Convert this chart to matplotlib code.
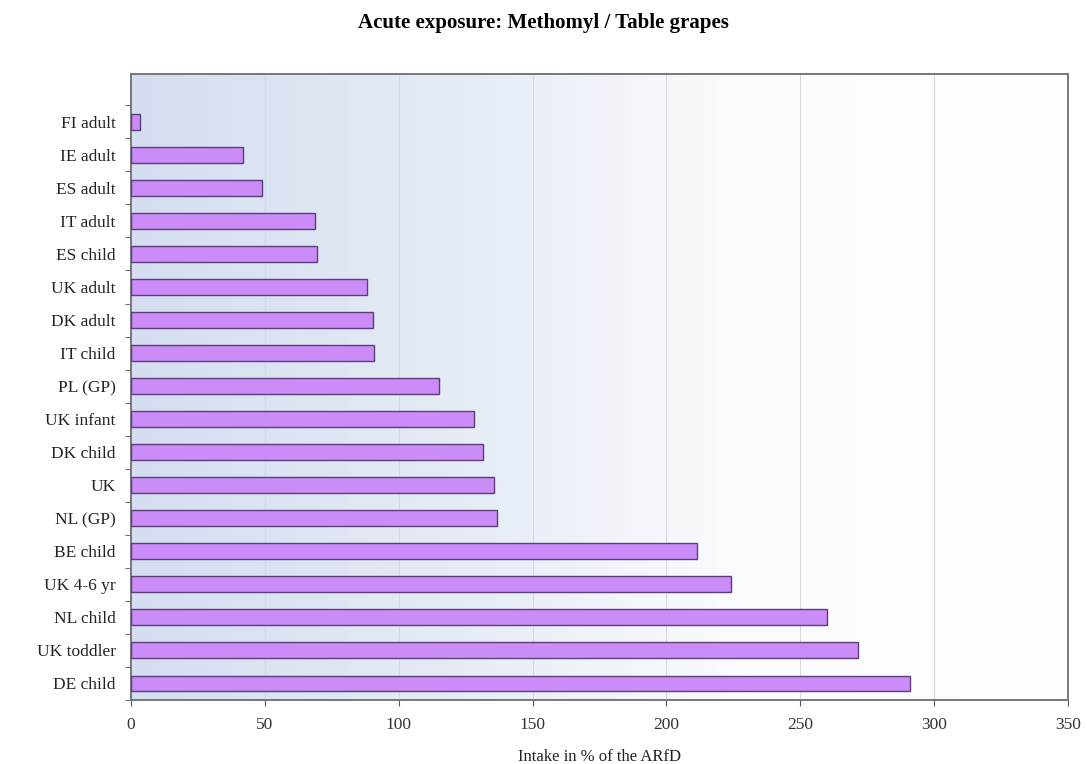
import numpy as np
import matplotlib
matplotlib.use('Agg')
import matplotlib.pyplot as plt
from matplotlib.colors import LinearSegmentedColormap

groups = ['DE child', 'UK toddler', 'NL child', 'UK 4-6 yr', 'BE child', 'NL (GP)',
          'UK', 'DK child', 'UK infant', 'PL (GP)', 'IT child', 'DK adult',
          'UK adult', 'ES child', 'IT adult', 'ES adult', 'IE adult', 'FI adult']
intake = [291, 271.5, 260, 224, 211.5, 136.8,
          135.6, 131.4, 128.3, 115.2, 90.8, 90.3,
          88, 69.4, 68.9, 48.8, 41.9, 3.4]
x_ticks = [0, 50, 100, 150, 200, 250, 300, 350]

plt.rcParams['font.family'] = ['Liberation Serif', 'DejaVu Serif']

fig = plt.figure(figsize=(10.87, 7.64), dpi=100)
ax = fig.add_axes([0.1205, 0.0838, 0.862, 0.8195])

# background gradient, light blue on the left fading to white
bg = LinearSegmentedColormap.from_list('bg', ['#d4def0', '#e4ebf5', '#fbfcfe', '#ffffff'])
grad = np.linspace(0, 1, 256).reshape(1, -1)
ax.imshow(grad, cmap=bg, aspect='auto', extent=[0, 350, -0.5, 18.45],
          zorder=0, interpolation='bicubic')

y = np.arange(len(groups))
ax.barh(y, intake, height=0.48, color='#cb8cf8', edgecolor='#5a3f7a',
        linewidth=1.0, zorder=3)

ax.set_xlim(0, 350)
ax.set_ylim(-0.5, 18.45)
ax.set_xticks(x_ticks)
ax.set_xticklabels([str(t) for t in x_ticks], fontsize=12.5, color='#333333')
ax.set_yticks(y)
ax.set_yticklabels(groups, fontsize=12.5, color='#222222')
ax.tick_params(axis='y', length=0, pad=11)
ax.tick_params(axis='x', length=4, color='#555555', pad=8)
ax.set_yticks(np.arange(-0.5, 18.5, 1), minor=True)
ax.tick_params(axis='y', which='minor', length=4, color='#555555')

ax.grid(axis='x', color='#d6d8e2', linewidth=0.8, zorder=1)
for s in ax.spines.values():
    s.set_color('#777777')
    s.set_linewidth(1.4)

fig.suptitle('Acute exposure: Methomyl / Table grapes', y=0.983,
             fontsize=15, fontweight='bold')
ax.set_xlabel('Intake in % of the ARfD', fontsize=12, labelpad=12, color='#222222')

fig.savefig('out.png', dpi=100)
